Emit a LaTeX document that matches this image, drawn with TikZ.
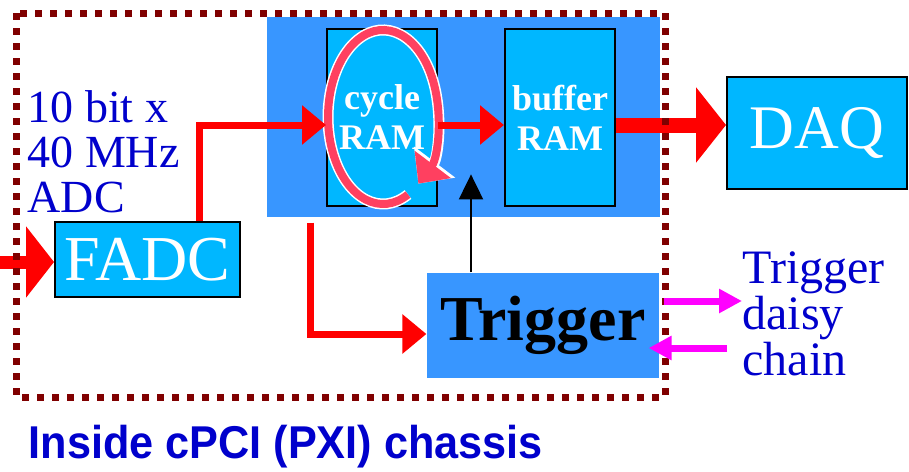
\documentclass[tikz,border=0pt]{standalone}
\usepackage{fontspec}
\setmainfont{Liberation Serif}
\newfontfamily\chassisfont{Liberation Sans}
\usetikzlibrary{arrows.meta,positioning}

\definecolor{framered}{RGB}{128,0,0}
\definecolor{modblue}{RGB}{56,150,255}
\definecolor{boxcyan}{RGB}{0,183,255}
\definecolor{labelblue}{RGB}{0,0,204}
\definecolor{loopred}{RGB}{255,64,96}
\definecolor{chainpink}{RGB}{255,0,255}

\begin{document}
\begin{tikzpicture}[
    x = 0.5pt, y = -0.5pt, % one unit is one pixel of the sketch
    >= Triangle, % arrow head style
    node distance = 33pt, % distance between the RAM boxes
    semithick % line style
    ]

    \tikzset{
    box/.style = {inner sep = 0pt, fill = boxcyan, draw = black, line width = 1pt, text = white},
    ram/.style = {box, minimum width = 55pt, minimum height = 88.5pt, align = center,
        font = \fontsize{18}{20}\selectfont\bfseries},
    label/.style = {inner sep = 0pt, text = labelblue, align = left, anchor = west},
    redline/.style = {draw = red, line width = 3.5pt, -{Triangle[length = 12pt, width = 19pt]}},
    fatline/.style = {draw = red, line width = 6.5pt, -{Triangle[length = 14pt, width = 35pt]}},
    daqline/.style = {draw = red, line width = 7.5pt, -{Triangle[length = 15pt, width = 37pt]}},
    pinkline/.style = {draw = chainpink, line width = 3.5pt, -{Triangle[length = 11.5pt, width = 11.5pt]}},
    blackline/.style = {draw = black, line width = 1pt, -{Triangle[length = 12.5pt, width = 12pt]}}
    }

    \useasboundingbox (0,0) rectangle (909,471);

    % the module and its memories
    \node[fill = modblue, inner sep = 0pt, minimum width = 196.5pt, minimum height = 100pt] (mem) at (463.5,117) {};
    \node[ram] (cycle) at (382,117.5) {cycle\\RAM};
    \node[ram, right = of cycle] (buffer) {buffer\\RAM};

    % ring buffer loop
    \draw[white, line width = 5.5pt, -{Triangle[length = 13.5pt, width = 25pt]}]
        (408,194.5) arc[start angle = 63, end angle = 410, x radius = 55, y radius = 87];
    \draw[loopred, line width = 4pt, -{Triangle[length = 12pt, width = 22pt]}]
        (408,194.5) arc[start angle = 63, end angle = 410, x radius = 55, y radius = 87];

    \node[box, minimum width = 92.5pt, minimum height = 37.5pt, font = \fontsize{32}{36}\selectfont] (fadc) at (147.5,259.5) {FADC};
    \node[box, minimum width = 90pt, minimum height = 56pt, font = \fontsize{31}{36}\selectfont] (daq) at (817,133) {DAQ};
    \node[fill = modblue, inner sep = 0pt, minimum width = 116pt, minimum height = 52.5pt,
        font = \fontsize{32}{36}\selectfont\bfseries] (trig) at (543,325.5) {Trigger};

    \node[label, font = \fontsize{23}{22.5}\selectfont] (adc) at (27,152) {10 bit x\\40 MHz\\ADC};
    \node[label, font = \fontsize{24}{21}\selectfont] (daisy) at (742,314) {Trigger\\daisy\\chain};
    \node[label, font = \fontsize{23}{26}\selectfont\chassisfont\bfseries] (title) at (28,447)
        {\scalebox{0.94}[1]{Inside cPCI (PXI) chassis}};

    % data path
    \coordinate (in) at (0,262);
    \draw[fatline] (in) -- (in -| fadc.west);
    \draw[redline] ([xshift = 25.75pt]fadc.north) |- ([yshift = -3.75pt]cycle.west);
    \draw[redline] ([yshift = -3.75pt]cycle.east) -- ([yshift = -3.75pt]buffer.west);
    \draw[daqline] ([yshift = -3.75pt]buffer.east) -- ([yshift = -3.75pt]buffer.east -| daq.west);
    \draw[redline] ([xshift = 22pt, yshift = -2.5pt]mem.south west) |- ([yshift = -4.25pt]trig.west);
    \draw[blackline] ([xshift = -36pt]trig.north) -- ++(0,-98);

    % chassis outline
    \draw[framered, line width = 3.5pt, dash pattern = on 3.5pt off 4pt] (16,13) rectangle (665,397);

    % daisy chain
    \draw[pinkline] ([xshift = 2pt, yshift = 12.25pt]trig.east) -- ([yshift = 12.25pt]trig.east -| daisy.west);
    \draw[pinkline] ([xshift = -7.5pt, yshift = -11.25pt]trig.east -| daisy.west) -- ([xshift = -5.5pt, yshift = -11.25pt]trig.east);
\end{tikzpicture}
\end{document}
